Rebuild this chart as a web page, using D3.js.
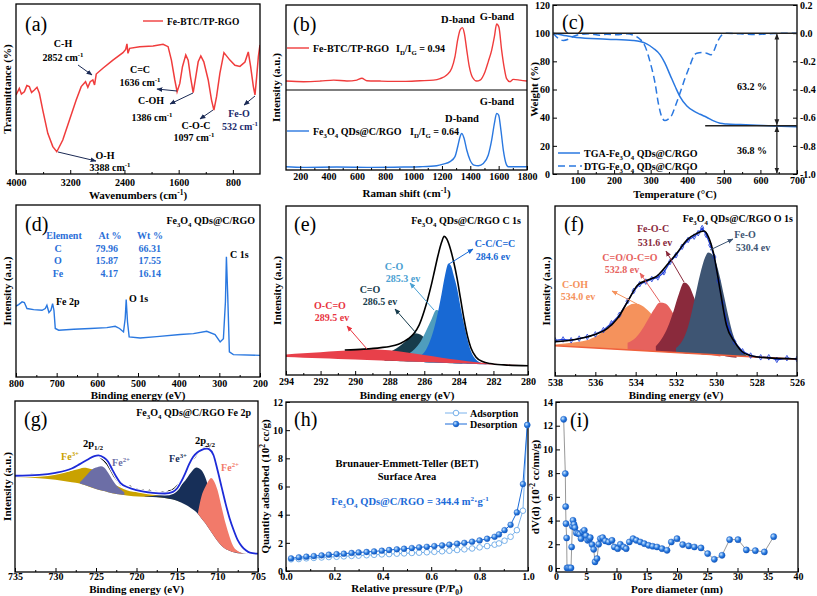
<!DOCTYPE html>
<html><head><meta charset="utf-8">
<script src="https://cdn.jsdelivr.net/npm/d3@7"></script>
<style>
body{margin:0;background:#fff;}
svg{display:block;font-family:"Liberation Serif","Times New Roman",serif;}
.tick line{stroke:#000;}
</style></head><body>
<svg id="c" width="817" height="596"></svg>
<script>
// ================= DATA =================
// (a) FTIR  [wavenumber, transmittance a.u.]
const ftirCurve=[[4000,46.5],[3951,50.4],[3920,47],[3877,48.4],[3840,52],[3803,51.4],[3770,48],[3729,49.4],[3690,51],[3655,47.5],[3605,37.6],[3531,23.9],[3457,16.1],[3398,13.1],[3310,20],[3211,31.8],[3112,43.5],[3038,51.4],[2974,54.3],[2940,51],[2905,54.3],[2866,55.3],[2841,52.4],[2816,58.8],[2718,62.2],[2570,67],[2422,71.4],[2382,73.3],[2363,76.5],[2348,71],[2323,73.9],[2175,74.9],[1978,75.3],[1830,76.3],[1756,74.9],[1707,67],[1657,55.3],[1623,48.4],[1583,53.3],[1544,63.1],[1495,70.1],[1460,67],[1426,57.3],[1386,47.8],[1347,57.3],[1312,66],[1273,69.4],[1229,66],[1164,55.3],[1115,43.5],[1080,37.6],[1041,45.5],[992,59.2],[932,71.4],[844,67],[770,64],[696,63.3],[622,65.9],[573,71.8],[538,63.1],[498,51.4],[474,46.5],[449,57.3],[424,69],[400,75.9]];
const ftirTicks=[4000,3200,2400,1600,800];
// (b) Raman [shift, intensity]
const ramanRed=[[100,53.9],[224,53.5],[342,53.9],[436,54.5],[530,53.9],[600,54.5],[635,55.6],[670,54.1],[764,53.9],[929,53.7],[1046,54.1],[1140,54.5],[1187,55.4],[1234,57.6],[1269,61.6],[1292,68.7],[1311,78.8],[1328,84.8],[1344,86.3],[1358,82.8],[1375,72.7],[1393,62.6],[1415,56.2],[1445,53.9],[1469,54.5],[1504,59.6],[1527,65.7],[1551,72.7],[1570,80.8],[1586,88.5],[1602,86.5],[1621,72.7],[1640,61.6],[1656,55.4],[1680,53.5],[1703,54.9],[1750,54.5],[1800,53.9]];
const ramanBlue=[[100,2.0],[224,1.6],[459,1.8],[694,1.6],[929,1.8],[1046,2.0],[1163,2.6],[1210,3.6],[1257,5.1],[1292,8.1],[1311,14.1],[1328,20.2],[1339,22.2],[1356,19.2],[1375,12.1],[1398,6.1],[1426,3.0],[1457,2.6],[1492,4.0],[1527,9.1],[1551,18.2],[1570,28.3],[1586,34.3],[1600,33.3],[1616,24.2],[1633,12.1],[1652,4.0],[1668,2.0],[1727,2.0],[1800,2.0]];
const ramanTicks=[200,400,600,800,1000,1200,1400,1600,1800];
// (c) TGA [T, wt%] and DTG [T, value]
const tgaCurve=[[33,100],[70,98.1],[97,96.9],[180,95.7],[252,94.8],[271,94.1],[289,92.4],[307,89.3],[326,84.6],[339,78.7],[353,70.4],[367,62.1],[380,55],[399,48.3],[417,44.8],[435,42.4],[453,40.3],[472,37.7],[490,36],[508,35.5],[545,35.1],[590,34.6],[636,34.1],[700,33.6]];
const dtgCurve=[[33,0],[47,-0.036],[61,-0.052],[75,-0.043],[88,-0.024],[106,-0.009],[134,-0.005],[161,-0.014],[180,-0.007],[207,-0.012],[234,-0.005],[257,-0.019],[271,-0.043],[285,-0.095],[298,-0.201],[312,-0.355],[321,-0.498],[330,-0.592],[339,-0.621],[348,-0.611],[358,-0.581],[367,-0.521],[380,-0.427],[394,-0.32],[408,-0.225],[417,-0.166],[426,-0.142],[440,-0.137],[453,-0.142],[464,-0.154],[472,-0.13],[481,-0.071],[495,-0.012],[508,0],[545,-0.005],[590,-0.009],[636,-0.002],[700,0]];
const tgaTicks=[100,200,300,400,500,600,700];
const weightTicks=[0,20,40,60,80,100,120];
const dtgTicks=[-1.0,-0.8,-0.6,-0.4,-0.2,0.0,0.2];
// (d) XPS survey [eV, intensity]
const surveyCurve=[[800,41.2],[793.5,42.1],[785,43.7],[779.5,43.3],[773,39.8],[756.6,39.2],[736,38.8],[728,39.8],[724,41.7],[719,37.5],[714,38.8],[710,42.7],[706.7,38.8],[703.4,28.2],[695,27.2],[658,27.8],[617.5,28.2],[576.5,28.7],[556,29.5],[545.4,28.2],[535.6,26.2],[531.5,34],[529,45],[525.8,32],[521.7,23.3],[494.7,22.7],[453.7,23.5],[396.4,24.7],[363.7,25.2],[331,26.6],[310.5,24.7],[298,20.4],[290,22.3],[285,43.7],[282.6,69.9],[279.4,47.6],[275.3,14.6],[265.5,13],[200,12.6]];
const surveyTicks=[800,700,600,500,400,300,200];
const elements=["C","O","Fe"], atPercent=["79.96","15.87","4.17"], wtPercent=["66.31","17.55","16.14"];
// (e) C 1s
const c1sBaseline=[[294,10.6],[280,5.4]];
const c1sOCO=[[294,12.2],[293,12.8],[292,13.5],[291,14.2],[290,14.8],[289.3,15.2],[288.5,15.0],[288,14.6],[287,13.3],[286,11.8],[285,10.2],[284,8.9],[283,7.6],[282,6.7],[281,6.1],[280,5.8]];
const c1sCdO=[[288.3,12.6],[288,13.6],[287.6,15.8],[287.2,19],[286.8,22.5],[286.5,24.7],[286.2,23.8],[285.9,21],[285.5,16.5],[285.1,12.8],[284.7,10.5],[284.3,9.2],[283.8,8.4]];
const c1sCO=[[287,12],[286.6,15],[286.2,20],[285.9,26],[285.6,32.5],[285.3,38.5],[285.1,37.5],[284.8,33],[284.5,26],[284.2,18.5],[283.9,12.5],[283.5,8.8],[283,7.2]];
const c1sCC=[[286.2,11.5],[285.9,15],[285.6,22],[285.3,33],[285,48],[284.8,59],[284.6,66],[284.45,64.5],[284.3,59],[284.1,51],[283.9,40],[283.7,30],[283.5,21],[283.3,14],[283,9],[282.6,6.8],[282.2,6.2]];
const c1sEnvelope=[[290.6,14.8],[289.5,15.3],[288.5,16.2],[288,16.9],[287.5,18.2],[287.2,19.7],[286.9,21.6],[286.6,24.5],[286.3,29.5],[286.0,38],[285.8,45],[285.6,53],[285.4,62],[285.2,71],[285.0,78.5],[284.85,82],[284.7,80.5],[284.5,75],[284.3,67],[284.1,57],[283.9,45],[283.7,33],[283.5,23],[283.3,16],[283,10.5],[282.6,7.8],[282.2,6.8],[281.4,6],[280,5.5]];
const c1sTicks=[294,292,290,288,286,284,282,280];
// (f) O 1s
const o1sBaseline=[[538,17.8],[526,9.8]];
const o1sCOH=[[538,18.6],[537,19.8],[536.3,21.5],[535.8,24.5],[535.4,28.5],[535,33.5],[534.6,39],[534.2,42.3],[534,42.7],[533.7,41.5],[533.3,37.5],[532.9,31.5],[532.5,25.5],[532.1,20.5],[531.6,16.5],[531,14],[530,12.5],[528,11],[526,10]];
const o1sCOOC=[[534.4,19.5],[534,22.5],[533.7,27],[533.4,33],[533.1,39],[532.8,43.3],[532.5,42.5],[532.2,38],[531.9,31.5],[531.6,24.5],[531.3,19],[530.9,15],[530.4,12.8],[529.8,11.5]];
const o1sFeOC=[[533,17.5],[532.7,22],[532.4,29],[532.1,39],[531.85,48.5],[531.6,55],[531.35,53],[531.1,46],[530.8,36],[530.5,25.5],[530.2,17.5],[529.9,13.5],[529.5,11.5],[529,10.8]];
const o1sFeO=[[532,16.5],[531.7,20.5],[531.4,29],[531.1,44],[530.8,60],[530.55,70],[530.4,72.7],[530.2,71.5],[530,66],[529.8,57],[529.6,46],[529.4,35],[529.2,25.5],[528.9,17],[528.6,13],[528.2,11],[527.8,10.5]];
const o1sEnvelope=[[538,20.2],[537,21.5],[536.1,24.1],[535.4,28],[534.9,33.9],[534.4,43.7],[533.9,53.5],[533.4,56.5],[532.95,58.8],[532.45,65.3],[531.96,72.2],[531.46,80],[530.97,83.9],[530.6,85.3],[530.4,82],[530.14,72.2],[529.8,49.6],[529.5,30],[529.1,20.2],[528.6,13.3],[527.8,11],[526,10]];
const o1sRaw=[[538,21],[537.6,21.5],[537.2,21],[536.8,22],[536.4,23],[536,24.5],[535.6,27],[535.2,31],[534.8,36],[534.4,44],[534.1,50],[533.8,54],[533.5,55.5],[533.2,57],[532.9,58],[532.6,61],[532.3,67],[532.0,71],[531.7,76],[531.4,80],[531.1,82],[530.9,84],[530.7,87],[530.5,83],[530.3,77],[530.1,70],[529.9,56],[529.7,43],[529.4,28],[529.1,20],[528.7,14.5],[528.3,12],[527.8,11],[527.4,11],[527,9.5],[526.5,10.5],[526,10]];
const o1sTicks=[538,536,534,532,530,528,526];
// (g) Fe 2p
const fe2pBackground=[[735,55.4],[730,54.0],[727,51.8],[725,48.6],[723,46.0],[720.4,44.3],[717.1,43.6],[715.4,42.4],[714.6,41.0],[713.5,38.2],[712.5,34.5],[711.5,28.5],[710.5,21.5],[709.7,16],[709,13.5],[708,11.5],[707,10.8],[705,10.7]];
const fe2pFe3a=[[735,56.6],[730,57.6],[728,59.2],[727,60.4],[726.5,60.9],[726,60.7],[725,59.2],[724,56],[723,52.1],[722,49.4],[720.4,46.9],[718,46.2],[717.1,45.9],[716,45.4],[715.4,44.4],[714.6,42.5]];
const fe2pFe2a=[[727,52.5],[726.2,56.5],[725.5,60],[725,61.1],[724.4,61.9],[724,61.1],[723.5,58],[723,54.1],[722.5,50.8],[722,48.5],[721.5,46.5]];
const fe2pFe3b=[[719,44.2],[717,45.0],[716,46.5],[715,48.8],[714,53.3],[713.3,58],[712.6,61.1],[712,59.6],[711.5,55.3],[711,47.9],[710.5,40],[710,32.2],[709.5,25.4],[709,20.5],[708.5,16.6],[708,13.7],[707,11.1],[706,10.7]];
const fe2pFe2b=[[712.4,35],[712,43.9],[711.5,49.8],[711,54.1],[710.8,54.9],[710.5,53.7],[710,47.9],[709.5,38],[709,28.3],[708.5,20.5],[708,14.6],[707.5,12.3],[707,11.1],[706.5,10.7]];
const fe2pEnvelope=[[735,56.3],[732,56.8],[730,58],[728,60.5],[727,63.1],[726,65.8],[725.2,67.8],[724.7,68.2],[724,66.8],[723.5,64.5],[723,60],[722.5,55.7],[722,52.1],[721,49.4],[720,47.9],[718,46.3],[716.5,45.9],[715.5,46.9],[715,48.8],[714.5,52.7],[714,57.6],[713.5,63.1],[713,67.4],[712.5,69.9],[712,71.3],[711.3,72.1],[711,71.7],[710.5,68.4],[710,59.6],[709.5,49.8],[709,40],[708.5,31.3],[708,24.4],[707.5,18.6],[707,15],[706.5,12.7],[706,11.3],[705,10.7]];
const fe2pRaw=[[735,56.5],[734,56.0],[733,57.2],[732,56.9],[731,57.5],[730,58.3],[729.5,58.8],[729,59.5],[728.5,60.1],[728,61.0],[727.5,62.2],[727,63.4],[726.5,64.6],[726,66.0],[725.6,66.8],[725.2,67.9],[724.9,68.6],[724.6,67.7],[724.3,66.2],[724,65.0],[723.6,62.8],[723.2,59.5],[722.8,56.0],[722.4,53.5],[722,51.0],[721.6,50.2],[721.2,48.9],[720.8,50.3],[720.4,48.4],[720,48.8],[719.6,47.4],[719.2,48.0],[718.8,46.8],[718.4,47.9],[718,46.5],[717.6,47.2],[717.2,46.0],[716.8,47.0],[716.4,46.2],[716,47.5],[715.6,48.0],[715.2,49.5],[714.8,51.5],[714.4,54.0],[714,57.5],[713.6,62.0],[713.2,65.2],[712.8,67.0],[712.4,69.8],[712,71.2],[711.6,72.8],[711.3,73.5],[711,72.4],[710.7,70.5],[710.4,67.0],[710.1,62.0],[709.8,56.0],[709.5,49.0],[709.2,43.0],[708.9,37.5],[708.6,32.0],[708.3,27.5],[708,23.5],[707.6,19.0],[707.2,15.8],[706.8,13.8],[706.4,12.3],[706,11.5],[705.5,11.0],[705,10.9]];
const fe2pTicks=[735,730,725,720,715,710,705];
// (h) BET isotherm [P/P0, quantity]
const adsorption=[[0.021,0.83],[0.053,0.85],[0.084,0.9],[0.115,0.93],[0.147,0.96],[0.177,0.99],[0.209,1.01],[0.239,1.04],[0.271,1.07],[0.3,1.09],[0.333,1.12],[0.364,1.15],[0.396,1.18],[0.426,1.2],[0.458,1.23],[0.488,1.25],[0.52,1.28],[0.55,1.3],[0.582,1.33],[0.613,1.36],[0.645,1.4],[0.675,1.44],[0.707,1.49],[0.737,1.54],[0.769,1.6],[0.8,1.68],[0.831,1.77],[0.862,1.87],[0.88,1.96],[0.903,2.15],[0.928,2.43],[0.954,2.9],[0.979,4.28],[0.997,10.37]];
const desorption=[[0.021,0.9],[0.053,0.97],[0.084,1.02],[0.115,1.06],[0.147,1.11],[0.177,1.16],[0.209,1.2],[0.239,1.23],[0.271,1.28],[0.3,1.32],[0.333,1.35],[0.364,1.39],[0.396,1.44],[0.426,1.49],[0.458,1.54],[0.488,1.58],[0.52,1.63],[0.55,1.68],[0.582,1.72],[0.613,1.77],[0.645,1.82],[0.675,1.87],[0.707,1.94],[0.737,2.0],[0.769,2.08],[0.8,2.17],[0.831,2.29],[0.862,2.43],[0.88,2.6],[0.903,2.9],[0.928,3.28],[0.954,4.16],[0.979,6.17],[0.997,10.37]];
const betXTicks=[0,0.2,0.4,0.6,0.8,1.0];
const betYTicks=[0,2,4,6,8,10,12];
// (i) pore size distribution [diameter nm, dV(d)]
const poreDist=[[1.27,12.54],[1.54,7.96],[1.6,5.17],[1.65,3.74],[1.76,2.53],[1.82,0],[2.0,0],[2.26,0],[2.48,0],[2.59,1.77],[2.7,3.51],[2.81,4.02],[2.98,3.68],[3.14,3.4],[3.36,2.95],[3.64,2.9],[3.91,2.84],[4.13,2.47],[4.41,3.04],[4.68,3.18],[4.96,2.73],[5.23,2.33],[5.51,2.42],[5.67,2.56],[5.95,1.97],[6.23,1.57],[6.45,0.51],[6.78,0.79],[7.05,2.0],[7.33,2.47],[7.71,2.56],[8.15,2.28],[8.7,2.19],[9.26,2.33],[9.64,1.77],[10.2,1.63],[10.63,2.0],[11.18,1.77],[11.6,1.63],[12.12,2.19],[12.73,2.47],[13.28,2.33],[13.94,2.19],[14.6,2.05],[15.3,1.91],[15.98,1.83],[16.7,1.77],[17.52,1.63],[18.35,1.49],[19.06,2.19],[20.0,2.47],[20.94,1.97],[21.93,1.86],[22.87,1.77],[23.97,1.69],[25.07,1.21],[26.17,0.73],[27.44,1.07],[28.7,2.39],[30.08,2.39],[31.46,1.52],[32.95,1.46],[34.44,1.35],[35.98,2.64]];
const poreXTicks=[0,5,10,15,20,25,30,35,40];
const poreYTicks=[0,2,4,6,8,10,12,14];

// ================= DRAWING =================
const FONT='"Liberation Serif","Times New Roman",serif';
const svg=d3.select("#c");
svg.append("rect").attr("width",817).attr("height",596).attr("fill","#fff");
const defs=svg.append("defs");
const markers={};
function marker(color){
  if(markers[color]) return markers[color];
  const id="m"+Object.keys(markers).length;
  defs.append("marker").attr("id",id).attr("viewBox","0 0 10 10").attr("refX",9).attr("refY",5)
    .attr("markerWidth",6).attr("markerHeight",6).attr("markerUnits","userSpaceOnUse").attr("orient","auto")
    .append("path").attr("d","M0,1L10,5L0,9z").attr("fill",color);
  markers[color]=id; return id;
}
const grad=defs.append("radialGradient").attr("id","dotGrad").attr("cx","35%").attr("cy","35%").attr("r","70%");
grad.append("stop").attr("offset","0%").attr("stop-color","#cfe8ff");
grad.append("stop").attr("offset","55%").attr("stop-color","#2a7be0");
grad.append("stop").attr("offset","100%").attr("stop-color","#0d52b8");

function rich(g,x,y,str,o){
  o=o||{};const fs=o.size||10;
  const t=g.append("text").attr("x",x).attr("y",y).attr("text-anchor",o.anchor||"start").attr("font-family",FONT)
    .attr("font-size",fs).attr("font-weight",o.weight||"bold").attr("fill",o.color||"#000");
  if(o.rotate) t.attr("transform",`rotate(${o.rotate},${x},${y})`);
  const re=/([_^])\{([^}]*)\}/g;let last=0,m;const parts=[];
  while((m=re.exec(str))){if(m.index>last)parts.push([str.slice(last,m.index),0]);parts.push([m[2],m[1]==="_"?1:-1]);last=re.lastIndex;}
  if(last<str.length)parts.push([str.slice(last),0]);
  let shift=0;
  parts.forEach(([s,k])=>{
    const target=k===0?0:(k>0?fs*0.3:-fs*0.4);
    const ts=t.append("tspan").text(s);
    if(target-shift!==0) ts.attr("dy",target-shift);
    if(k!==0) ts.attr("font-size",fs*0.68);
    shift=target;
  });
  return t;
}
function arrow(g,x1,y1,x2,y2,color,w){
  g.append("line").attr("x1",x1).attr("y1",y1).attr("x2",x2).attr("y2",y2)
   .attr("stroke",color).attr("stroke-width",w||1).attr("marker-end",`url(#${marker(color)})`);
}
function styleTicks(sel){
  sel.select(".domain").remove();
  sel.attr("font-family",FONT).attr("font-size",10);
  sel.selectAll(".tick text").attr("font-family",FONT).attr("font-weight","bold").attr("font-size",10).attr("fill","#000");
}
function panel(o){
  const x=d3.scaleLinear().domain(o.xd).range([o.l,o.r]);
  const y=d3.scaleLinear().domain(o.yd).range([o.b,o.t]);
  const cid="clip-"+o.name;
  defs.append("clipPath").attr("id",cid).append("rect").attr("x",o.l).attr("y",o.t).attr("width",o.r-o.l).attr("height",o.b-o.t);
  const root=svg.append("g");
  const plot=root.append("g").attr("clip-path",`url(#${cid})`);
  const axes=root.append("g");
  const ann=root.append("g");
  axes.append("g").attr("transform",`translate(0,${o.b})`)
    .call(d3.axisBottom(x).tickValues(o.xt).tickFormat(o.xf||(d=>d)).tickSizeInner(-4).tickSizeOuter(0).tickPadding(o.tp)).call(styleTicks);
  if(o.xm){axes.append("g").attr("transform",`translate(0,${o.b})`).call(d3.axisBottom(x).tickValues(o.xm).tickFormat("").tickSizeInner(-2).tickSizeOuter(0)).call(styleTicks);}
  if(o.yt){axes.append("g").attr("transform",`translate(${o.l},0)`).call(d3.axisLeft(y).tickValues(o.yt).tickFormat(o.yf||(d=>d)).tickSizeInner(-4).tickSizeOuter(0).tickPadding(3)).call(styleTicks);}
  let y2=null;
  if(o.y2d){y2=d3.scaleLinear().domain(o.y2d).range([o.b,o.t]);
    axes.append("g").attr("transform",`translate(${o.r},0)`).call(d3.axisRight(y2).tickValues(o.y2t).tickFormat(d=>d.toFixed(1)).tickSizeInner(-4).tickSizeOuter(0).tickPadding(3)).call(styleTicks);}
  axes.append("rect").attr("x",o.l).attr("y",o.t).attr("width",o.r-o.l).attr("height",o.b-o.t).attr("fill","none").attr("stroke","#000").attr("stroke-width",1.3);
  rich(axes,(o.l+o.r)/2,o.xty,o.xtitle,{anchor:"middle",size:11});
  rich(axes,o.ytx,(o.t+o.b)/2,o.ytitle,{anchor:"middle",size:11,rotate:-90});
  ann.append("text").attr("x",o.lx).attr("y",o.ly).attr("font-family",FONT).attr("font-size",20).attr("fill","#000").text(o.label);
  const line=(data,curve)=>d3.line().x(d=>x(d[0])).y(d=>y(d[1])).curve(curve||d3.curveMonotoneX)(data);
  return {x,y,y2,plot,ann,line};
}
function interp(arr){return d3.scaleLinear().domain(arr.map(d=>d[0])).range(arr.map(d=>d[1]));}
function fillComp(p,data,base,color){
  const bg=interp(base);
  p.plot.append("path").attr("d",d3.area().x(d=>p.x(d[0])).y0(d=>p.y(bg(d[0]))).y1(d=>p.y(d[1])).curve(d3.curveMonotoneX)(data))
    .attr("fill",color).attr("stroke","none");
}
const minor=(a,b,s)=>d3.range(a,b+1e-9,s);

// ---------- (a) ----------
{
 const p=panel({name:"a",l:16,r:260,t:4,b:174,tp:5,xd:[4000,400],yd:[0,100],xt:ftirTicks,xm:[3600,2800,2000,1200],
   xtitle:"Wavenumbers (cm^{-1})",xty:199,ytitle:"Transmittance (%)",ytx:11,label:"(a)",lx:25,ly:31});
 p.plot.append("path").attr("d",p.line(ftirCurve,d3.curveLinear)).attr("fill","none").attr("stroke","#f03c3c").attr("stroke-width",1.5);
 const a=p.ann;
 a.append("line").attr("x1",143).attr("x2",163).attr("y1",21).attr("y2",21).attr("stroke","#f03c3c").attr("stroke-width",1.4);
 rich(a,167,24.5,"Fe-BTC/TP-RGO",{size:9.5});
 rich(a,63,47,"C-H",{anchor:"middle"}); rich(a,63,60.5,"2852 cm^{-1}",{anchor:"middle"});
 arrow(a,78,65,92,75,"#1b2a55");
 rich(a,140,73,"C=C",{anchor:"middle"}); rich(a,140,86,"1636 cm^{-1}",{anchor:"middle"});
 arrow(a,177,91,157,89,"#1b2a55");
 rich(a,151,104,"C-OH",{anchor:"middle"}); rich(a,152,120.5,"1386 cm^{-1}",{anchor:"middle"});
 arrow(a,193,93,170,104,"#1b2a55");
 rich(a,196,129,"C-O-C",{anchor:"middle"}); rich(a,194,141,"1097 cm^{-1}",{anchor:"middle"});
 arrow(a,213,110,200,119,"#1b2a55");
 rich(a,239,117,"Fe-O",{anchor:"middle",color:"#1b2a6b"}); rich(a,240,130,"532 cm^{-1}",{anchor:"middle",color:"#1b2a6b"});
 arrow(a,255,96,244,105,"#1b2a55");
 rich(a,105,159,"O-H",{anchor:"middle"}); rich(a,110,170.5,"3388 cm^{-1}",{anchor:"middle"});
 arrow(a,58,152,96,161,"#1b2a55");
}
// ---------- (b) ----------
{
 const p=panel({name:"b",l:286,r:527,t:5,b:170,tp:3,xd:[100,1800],yd:[0,100],xt:ramanTicks,xm:minor(300,1700,200),
   xtitle:"Raman shift (cm^{-1})",xty:197,ytitle:"Intensity (a.u.)",ytx:280,label:"(b)",lx:293,ly:31});
 p.plot.append("path").attr("d",p.line(ramanRed)).attr("fill","none").attr("stroke","#f03c3c").attr("stroke-width",1.4);
 p.plot.append("path").attr("d",p.line(ramanBlue)).attr("fill","none").attr("stroke","#2a78e0").attr("stroke-width",1.4);
 const a=p.ann;
 a.append("line").attr("x1",286).attr("x2",527).attr("y1",90).attr("y2",90).attr("stroke","#000").attr("stroke-width",1.2);
 a.append("line").attr("x1",287).attr("x2",309).attr("y1",48).attr("y2",48).attr("stroke","#f03c3c").attr("stroke-width",1.4);
 rich(a,313,52,"Fe-BTC/TP-RGO",{size:10}); rich(a,396,52,"I_{D}/I_{G} = 0.94",{size:10});
 a.append("line").attr("x1",287).attr("x2",309).attr("y1",131).attr("y2",131).attr("stroke","#2a78e0").attr("stroke-width",1.4);
 rich(a,313,135,"Fe_{3}O_{4} QDs@C/RGO",{size:10}); rich(a,410,135,"I_{D}/I_{G} = 0.64",{size:10});
 rich(a,458,23,"D-band",{anchor:"middle",size:10.5}); rich(a,497,19.5,"G-band",{anchor:"middle",size:10.5});
 rich(a,462,122,"D-band",{anchor:"middle",size:10.5}); rich(a,497,105,"G-band",{anchor:"middle",size:10.5});
}
// ---------- (c) ----------
{
 const p=panel({name:"c",l:553,r:797,t:5,b:174,tp:2.5,xd:[33,700],yd:[0,120],xt:tgaTicks,xm:minor(150,650,100),yt:weightTicks,
   y2d:[-1,0.2],y2t:dtgTicks,xtitle:"Temperature (°C)",xty:197.5,ytitle:"Weight (%)",ytx:538,label:"(c)",lx:562,ly:29});
 const blue="#2a78e0";
 p.plot.append("path").attr("d",p.line(tgaCurve)).attr("fill","none").attr("stroke",blue).attr("stroke-width",1.5);
 p.plot.append("path").attr("d",d3.line().x(d=>p.x(d[0])).y(d=>p.y2(d[1])).curve(d3.curveMonotoneX)(dtgCurve))
   .attr("fill","none").attr("stroke",blue).attr("stroke-width",1.5).attr("stroke-dasharray","7,4");
 const a=p.ann;
 a.append("line").attr("x1",p.x(33)).attr("x2",p.x(700)).attr("y1",p.y(100)).attr("y2",p.y(100)).attr("stroke","#222").attr("stroke-width",1.5);
 a.append("line").attr("x1",p.x(449)).attr("x2",p.x(700)).attr("y1",p.y(34.3)).attr("y2",p.y(34.3)).attr("stroke","#222").attr("stroke-width",1.5);
 const xa=p.x(645);
 arrow(a,xa,p.y(66),xa,p.y(100)+1,"#222",1.3);arrow(a,xa,p.y(66),xa,p.y(34.3)-1,"#222",1.3);
 arrow(a,xa,p.y(17),xa,p.y(34.3)+1,"#222",1.3);arrow(a,xa,p.y(17),xa,p.y(0)-1,"#222",1.3);
 rich(a,752,90,"63.2 %",{anchor:"middle"}); rich(a,752,154,"36.8 %",{anchor:"middle"});
 a.append("line").attr("x1",558).attr("x2",580).attr("y1",153).attr("y2",153).attr("stroke",blue).attr("stroke-width",1.5);
 rich(a,584,156.5,"TGA-Fe_{3}O_{4} QDs@C/RGO",{size:10});
 a.append("line").attr("x1",558).attr("x2",582).attr("y1",166).attr("y2",166).attr("stroke",blue).attr("stroke-width",1.5).attr("stroke-dasharray","7,4");
 rich(a,584,169.5,"DTG-Fe_{3}O_{4} QDs@C/RGO",{size:10});
}
// ---------- (d) ----------
{
 const p=panel({name:"d",l:16,r:260,t:205,b:377,tp:3,xd:[800,200],yd:[0,100],xt:surveyTicks,xm:minor(250,750,100),
   xtitle:"Binding energy (eV)",xty:399,ytitle:"Intensity (a.u.)",ytx:11,label:"(d)",lx:25,ly:231});
 p.plot.append("path").attr("d",p.line(surveyCurve,d3.curveLinear)).attr("fill","none").attr("stroke","#2a78e0").attr("stroke-width",1.4);
 const a=p.ann, tc="#2a6fd8";
 rich(a,255,224,"Fe_{3}O_{4} QDs@C/RGO",{anchor:"end"});
 rich(a,64,239,"Element",{anchor:"middle",color:tc}); rich(a,110,239,"At %",{anchor:"middle",color:tc}); rich(a,150,239,"Wt %",{anchor:"middle",color:tc});
 elements.forEach((e,i)=>{const yy=251.5+i*12.7;
   rich(a,58,yy,e,{anchor:"middle",color:tc}); rich(a,118,yy,atPercent[i],{anchor:"end",color:tc}); rich(a,161,yy,wtPercent[i],{anchor:"end",color:tc});});
 rich(a,56,305,"Fe 2p"); rich(a,129,302,"O 1s"); rich(a,230,258,"C 1s");
}
// ---------- (e) ----------
{
 const p=panel({name:"e",l:286,r:528,t:206,b:375,tp:3,xd:[294,280],yd:[0,100],xt:c1sTicks,xm:minor(281,293,2),
   xtitle:"Binding energy (eV)",xty:399,ytitle:"Intensity (a.u.)",ytx:281,label:"(e)",lx:294,ly:231});
 fillComp(p,c1sCdO,c1sBaseline,"#173c4c");
 fillComp(p,c1sCO,c1sBaseline,"#4f9dbd");
 fillComp(p,c1sCC,c1sBaseline,"#1869d4");
 fillComp(p,c1sOCO,c1sBaseline,"#e8404a");
 p.plot.append("path").attr("d",p.line(c1sEnvelope)).attr("fill","none").attr("stroke","#000").attr("stroke-width",1.6);
 const a=p.ann;
 rich(a,521,224,"Fe_{3}O_{4} QDs@C/RGO  C 1s",{anchor:"end"});
 rich(a,495,247,"C-C/C=C",{anchor:"middle",color:"#1869d4"}); rich(a,493,260,"284.6 ev",{anchor:"middle",color:"#1869d4"});
 arrow(a,449,264,473,249,"#1869d4");
 rich(a,394,270,"C-O",{anchor:"middle",color:"#4aa0d2"}); rich(a,403,282,"285.3 ev",{anchor:"middle",color:"#4aa0d2"});
 arrow(a,434,310,410,283,"#4aa0d2");
 rich(a,370,293,"C=O",{anchor:"middle",color:"#173c4c"}); rich(a,380,305,"286.5 ev",{anchor:"middle",color:"#173c4c"});
 arrow(a,416,333,395,309,"#173c4c");
 rich(a,330,309,"O-C=O",{anchor:"middle",color:"#e8353f"}); rich(a,332,321,"289.5 ev",{anchor:"middle",color:"#e8353f"});
 arrow(a,367,349,347,326,"#e8353f");
}
// ---------- (f) ----------
{
 const p=panel({name:"f",l:555,r:797,t:206,b:376,tp:3,xd:[538,526],yd:[0,100],xt:o1sTicks,xm:minor(527,537,2),
   xtitle:"Binding energy (eV)",xty:399,ytitle:"Intensity (a.u.)",ytx:550,label:"(f)",lx:564,ly:231});
 fillComp(p,o1sCOH,o1sBaseline,"#f5925c");
 fillComp(p,o1sCOOC,o1sBaseline,"#e6625e");
 fillComp(p,o1sFeOC,o1sBaseline,"#8a2a3c");
 fillComp(p,o1sFeO,o1sBaseline,"#3e5573");
 p.plot.append("path").attr("d",p.line(o1sBaseline,d3.curveLinear)).attr("fill","none").attr("stroke","#f0603c").attr("stroke-width",1.5);
 p.plot.append("path").attr("d",p.line(o1sRaw,d3.curveLinear)).attr("fill","none").attr("stroke","#1a3ad8").attr("stroke-width",1.2);
 p.plot.selectAll("path.rawpt").data(o1sRaw).join("path").attr("class","rawpt")
   .attr("d",d3.symbol(d3.symbolDiamond,9)).attr("transform",d=>`translate(${p.x(d[0])},${p.y(d[1])})`)
   .attr("fill","none").attr("stroke","#1a3ad8").attr("stroke-width",0.8);
 p.plot.append("path").attr("d",p.line(o1sEnvelope)).attr("fill","none").attr("stroke","#000").attr("stroke-width",1.6);
 const a=p.ann;
 rich(a,793,222,"Fe_{3}O_{4} QDs@C/RGO  O 1s",{anchor:"end"});
 rich(a,745,238,"Fe-O",{anchor:"middle",color:"#3e5573"}); rich(a,753,251,"530.4 ev",{anchor:"middle",color:"#3e5573"});
 arrow(a,710,250,733,239,"#3e5573");
 rich(a,653,232,"Fe-O-C",{anchor:"middle",color:"#8a2a3c"}); rich(a,655,246,"531.6 ev",{anchor:"middle",color:"#8a2a3c"});
 arrow(a,684,282,666,251,"#8a2a3c");
 rich(a,630,261,"C=O/O-C=O",{anchor:"middle",color:"#e6625e"}); rich(a,622,273,"532.8 ev",{anchor:"middle",color:"#e6625e"});
 arrow(a,660,302,640,273,"#e6625e");
 rich(a,575,288,"C-OH",{anchor:"middle",color:"#f5925c"}); rich(a,578,300,"534.0 ev",{anchor:"middle",color:"#f5925c"});
 arrow(a,637,304,612,291,"#f5925c");
}
// ---------- (g) ----------
{
 const p=panel({name:"g",l:15,r:258,t:401,b:572,tp:1,xd:[735,705],yd:[0,100],xt:fe2pTicks,xm:[732.5,727.5,722.5,717.5,712.5,707.5],
   xtitle:"Binding energy (eV)",xty:592.5,ytitle:"Intensity (a.u.)",ytx:11,label:"(g)",lx:24,ly:426});
 fillComp(p,fe2pFe3a,fe2pBackground,"#c9a200");
 fillComp(p,fe2pFe2a,fe2pBackground,"#6c6ea6");
 fillComp(p,fe2pFe3b,fe2pBackground,"#172f58");
 fillComp(p,fe2pFe2b,fe2pBackground,"#f27a6a");
 p.plot.append("path").attr("d",p.line(fe2pRaw,d3.curveLinear)).attr("fill","none").attr("stroke","#000").attr("stroke-width",1.1);
 p.plot.append("path").attr("d",p.line(fe2pEnvelope)).attr("fill","none").attr("stroke","#fff").attr("stroke-width",4);
 p.plot.append("path").attr("d",p.line(fe2pEnvelope)).attr("fill","none").attr("stroke","#1d2bd8").attr("stroke-width",1.8);
 const a=p.ann;
 rich(a,251,416,"Fe_{3}O_{4} QDs@C/RGO  Fe 2p",{anchor:"end"});
 rich(a,93,447,"2p_{1/2}",{anchor:"middle",size:10.5}); rich(a,205,444,"2p_{3/2}",{anchor:"middle",size:10.5});
 rich(a,70,460,"Fe^{3+}",{anchor:"middle",color:"#c9a200"}); rich(a,121,466,"Fe^{2+}",{anchor:"middle",color:"#6c6ea6"});
 rich(a,178,462,"Fe^{3+}",{anchor:"middle",color:"#172f58"}); rich(a,230,471,"Fe^{2+}",{anchor:"middle",color:"#f27a6a"});
}
// ---------- (h) ----------
{
 const p=panel({name:"h",l:286,r:528,t:402,b:571,tp:1.5,xd:[0,1],yd:[0,12],xt:betXTicks,xf:d=>d.toFixed(1),xm:[0.1,0.3,0.5,0.7,0.9],yt:betYTicks,
   xtitle:"Relative pressure (P/P_{0})",xty:591.5,ytitle:"Quantity adsorbed (10^{2} cc/g)",ytx:269,label:"(h)",lx:294,ly:426});
 const lc="#7ab2ec", dc="#1a6ad8";
 p.plot.append("path").attr("d",p.line(adsorption,d3.curveLinear)).attr("fill","none").attr("stroke",lc).attr("stroke-width",1);
 p.plot.append("path").attr("d",p.line(desorption,d3.curveLinear)).attr("fill","none").attr("stroke",dc).attr("stroke-width",1);
 p.ann.selectAll("circle.ad").data(adsorption).join("circle").attr("class","ad").attr("cx",d=>p.x(d[0])).attr("cy",d=>p.y(d[1])).attr("r",2.8)
   .attr("fill","#fff").attr("stroke","#6aa8e6").attr("stroke-width",0.9);
 p.ann.selectAll("circle.de").data(desorption).join("circle").attr("class","de").attr("cx",d=>p.x(d[0])).attr("cy",d=>p.y(d[1])).attr("r",2.9)
   .attr("fill","url(#dotGrad)").attr("stroke","#1458c0").attr("stroke-width",0.4);
 const a=p.ann;
 a.append("line").attr("x1",445).attr("x2",467).attr("y1",413).attr("y2",413).attr("stroke",lc);
 a.append("circle").attr("cx",456).attr("cy",413).attr("r",2.8).attr("fill","#fff").attr("stroke","#6aa8e6").attr("stroke-width",0.9);
 rich(a,470,416.5,"Adsorption",{size:10});
 a.append("line").attr("x1",445).attr("x2",467).attr("y1",424).attr("y2",424).attr("stroke",dc);
 a.append("circle").attr("cx",456).attr("cy",424).attr("r",2.9).attr("fill","url(#dotGrad)").attr("stroke","#1458c0").attr("stroke-width",0.4);
 rich(a,470,427.5,"Desorption",{size:10});
 rich(a,407,467,"Brunauer-Emmett-Teller (BET)",{anchor:"middle",size:10.5});
 rich(a,407,479.5,"Surface Area",{anchor:"middle",size:10.5});
 rich(a,410,505,"Fe_{3}O_{4} QDs@C/RGO = 344.4 m^{2}·g^{-1}",{anchor:"middle",size:10.5,color:"#1a6ad8"});
}
// ---------- (i) ----------
{
 const p=panel({name:"i",l:556,r:798,t:402,b:572,tp:1,xd:[0,40],yd:[-0.34,14],xt:poreXTicks,yt:poreYTicks,
   xtitle:"Pore diameter (nm)",xty:592.5,ytitle:"dV(d) (10^{-2} cc/nm/g)",ytx:539,label:"(i)",lx:570,ly:427});
 p.plot.append("path").attr("d",p.line(poreDist,d3.curveLinear)).attr("fill","none").attr("stroke","#8c8c8c").attr("stroke-width",0.9);
 p.ann.selectAll("circle.pd").data(poreDist).join("circle").attr("class","pd").attr("cx",d=>p.x(d[0])).attr("cy",d=>p.y(d[1])).attr("r",3.1)
   .attr("fill","url(#dotGrad)").attr("stroke","#1458c0").attr("stroke-width",0.4);
}
</script></body></html>
